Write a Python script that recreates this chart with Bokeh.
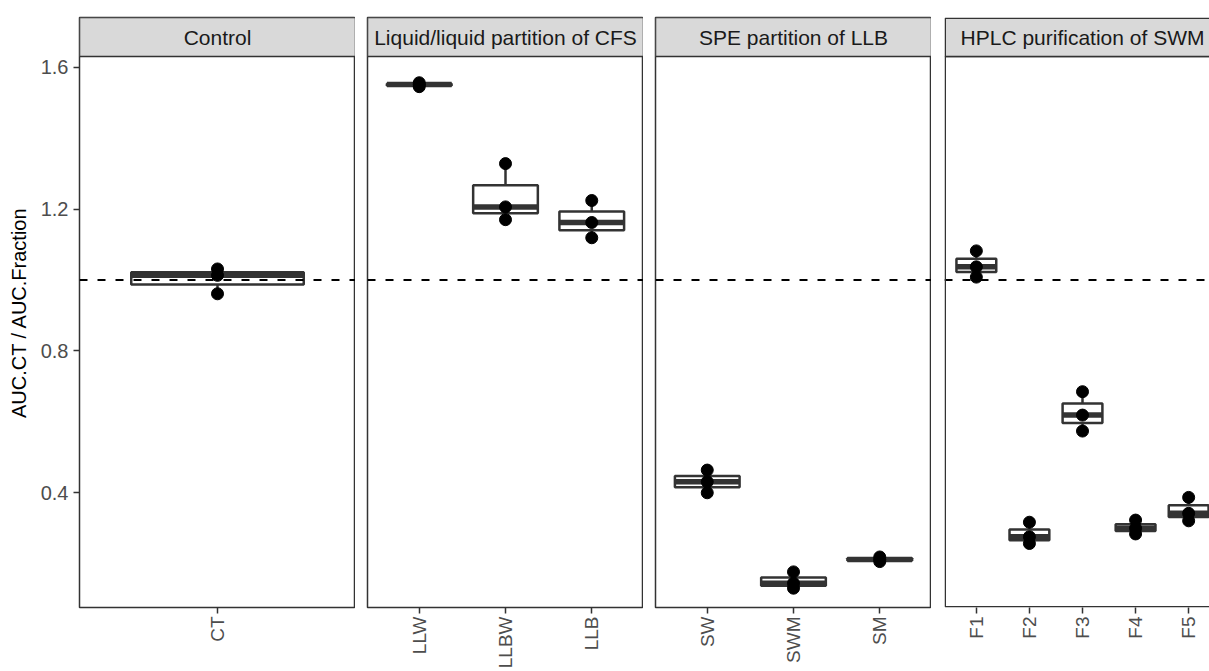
import math
import numpy as np
from bokeh.plotting import figure
from bokeh.layouts import row
from bokeh.models import Range1d, FixedTicker, Span, BoxAnnotation, Label
from bokeh.embed import file_html
from bokeh.resources import INLINE

# ---------------- data ----------------
panel_titles = ["Control", "Liquid/liquid partition of CFS",
                "SPE partition of LLB", "HPLC purification of SWM"]

control_labels = ["CT"]
control_values = [[0.961, 1.013, 1.031]]

llp_labels = ["LLW", "LLBW", "LLB"]
llp_values = [[1.545, 1.551, 1.556],
              [1.170, 1.206, 1.328],
              [1.119, 1.162, 1.224]]

spe_labels = ["SW", "SWM", "SM"]
spe_values = [[0.400, 0.431, 0.464],
              [0.131, 0.145, 0.177],
              [0.206, 0.212, 0.219]]

hplc_labels = ["F1", "F2", "F3", "F4", "F5"]
hplc_values = [[1.008, 1.037, 1.082],
               [0.257, 0.276, 0.317],
               [0.574, 0.619, 0.685],
               [0.284, 0.300, 0.323],
               [0.321, 0.342, 0.387]]

reference_line = 1.0
y_ticks = [0.4, 0.8, 1.2, 1.6]
y_title = "AUC.CT / AUC.Fraction"

# ---------------- layout / style ----------------
FONT = "Liberation Sans"
FIG_H = 671
FRAME_TOP = 17
STRIP_H = 39
BOTTOM_BORDER = 64
PANEL_H = FIG_H - FRAME_TOP - STRIP_H - BOTTOM_BORDER
PANEL_W = 276
PX_PER_UNIT = 354.7          # vertical scale of the reference
Y_HI = 1.630
Y_LO = Y_HI - PANEL_H / PX_PER_UNIT
Y_TOP = Y_HI + STRIP_H / PX_PER_UNIT
BORDER = "#333333"
BW = 1.5
BOX_W = 0.75


def box_stats(vals):
    v = np.asarray(vals, dtype=float)
    q1, med, q3 = np.percentile(v, [25, 50, 75])
    iqr = q3 - q1
    lo = v[v >= q1 - 1.5 * iqr].min()
    hi = v[v <= q3 + 1.5 * iqr].max()
    return q1, med, q3, lo, hi


def make_panel(title, labels, values, left_border, frame_w, show_y, open_right):
    n = len(labels)
    unit = PANEL_W / (n + 0.2)
    x_end = 0.4 + frame_w / unit
    fig_w = left_border + frame_w
    p = figure(width=fig_w, height=FIG_H, output_backend="svg", toolbar_location=None,
               x_range=Range1d(0.4, x_end), y_range=Range1d(Y_LO, Y_TOP),
               y_axis_location="left" if show_y else None,
               min_border_left=left_border, min_border_right=0,
               min_border_top=FRAME_TOP, min_border_bottom=BOTTOM_BORDER,
               background_fill_color="white", border_fill_color="white")
    p.xgrid.visible = False
    p.ygrid.visible = False
    if open_right:
        p.outline_line_color = None
    else:
        p.outline_line_color = BORDER
        p.outline_line_width = BW

    xs = list(range(1, n + 1))
    q1s, meds, q3s, los, his = zip(*[box_stats(v) for v in values])

    # whiskers
    p.segment(x0=xs, y0=q3s, x1=xs, y1=his, line_color=BORDER, line_width=2.5)
    p.segment(x0=xs, y0=q1s, x1=xs, y1=los, line_color=BORDER, line_width=2.5)
    # boxes
    p.vbar(x=xs, width=BOX_W, bottom=q1s, top=q3s, fill_color="white",
           line_color=BORDER, line_width=2.5)
    # medians
    p.segment(x0=[x - BOX_W / 2 for x in xs], y0=meds, x1=[x + BOX_W / 2 for x in xs], y1=meds,
              line_color=BORDER, line_width=5.5)
    # points
    px, py = [], []
    for x, vals in zip(xs, values):
        px += [x] * len(vals)
        py += list(vals)
    p.scatter(px, py, size=12, color="black")

    # reference line
    p.add_layout(Span(location=reference_line, dimension="width", line_color="black",
                      line_width=2, line_dash="8 10"))

    # strip (and, for the panel cut by the page edge, its border)
    if open_right:
        dx = (BW / 2) / unit
        dy = (BW / 2) / PX_PER_UNIT
        left, right = 0.4 + dx, x_end + 1
        p.add_layout(BoxAnnotation(left=left, right=right, bottom=Y_LO + dy, top=Y_HI,
                                   fill_alpha=0, line_color=BORDER, line_alpha=1,
                                   line_width=BW))
        strip_top = Y_TOP - dy
    else:
        left, right = 0.4, x_end
        strip_top = Y_TOP
    p.add_layout(BoxAnnotation(left=left, right=right, bottom=Y_HI, top=strip_top,
                               fill_color="#D9D9D9", fill_alpha=1,
                               line_color=BORDER, line_alpha=1, line_width=BW))
    p.add_layout(Label(x=(n + 1) / 2, y=(Y_HI + Y_TOP) / 2, text=title,
                       text_align="center", text_baseline="middle",
                       text_font=FONT, text_font_size="21px", text_color="#1A1A1A"))

    # x axis
    xa = p.xaxis[0]
    xa.ticker = FixedTicker(ticks=xs)
    xa.major_label_overrides = {x: lab for x, lab in zip(xs, labels)}
    xa.major_label_orientation = math.pi / 2
    xa.major_label_text_font = FONT
    xa.major_label_text_font_size = "19px"
    xa.major_label_text_color = "#4D4D4D"
    xa.major_label_standoff = 3
    xa.axis_line_color = None
    xa.major_tick_in = 0
    xa.major_tick_out = 6
    xa.major_tick_line_color = BORDER
    xa.major_tick_line_width = 1.5
    xa.minor_tick_line_color = None

    if show_y:
        ya = p.yaxis[0]
        ya.ticker = FixedTicker(ticks=y_ticks)
        ya.major_label_text_font = FONT
        ya.major_label_text_font_size = "20px"
        ya.major_label_text_color = "#4D4D4D"
        ya.major_label_standoff = 5
        ya.axis_line_color = None
        ya.major_tick_in = 0
        ya.major_tick_out = 6
        ya.major_tick_line_color = BORDER
        ya.major_tick_line_width = 1.5
        ya.minor_tick_line_color = None
        ya.axis_label = y_title
        ya.axis_label_text_font = FONT
        ya.axis_label_text_font_size = "20px"
        ya.axis_label_text_font_style = "normal"
        ya.axis_label_text_color = "black"
        ya.axis_label_standoff = 8
    return p


figs = [
    make_panel(panel_titles[0], control_labels, control_values, 79, 276, True, False),
    make_panel(panel_titles[1], llp_labels, llp_values, 12, 276, False, False),
    make_panel(panel_titles[2], spe_labels, spe_values, 12, 276, False, False),
    make_panel(panel_titles[3], hplc_labels, hplc_values, 13, 265, False, True),
]

layout = row(*figs, spacing=0)
open("out.html", "w").write(file_html(layout, INLINE))
